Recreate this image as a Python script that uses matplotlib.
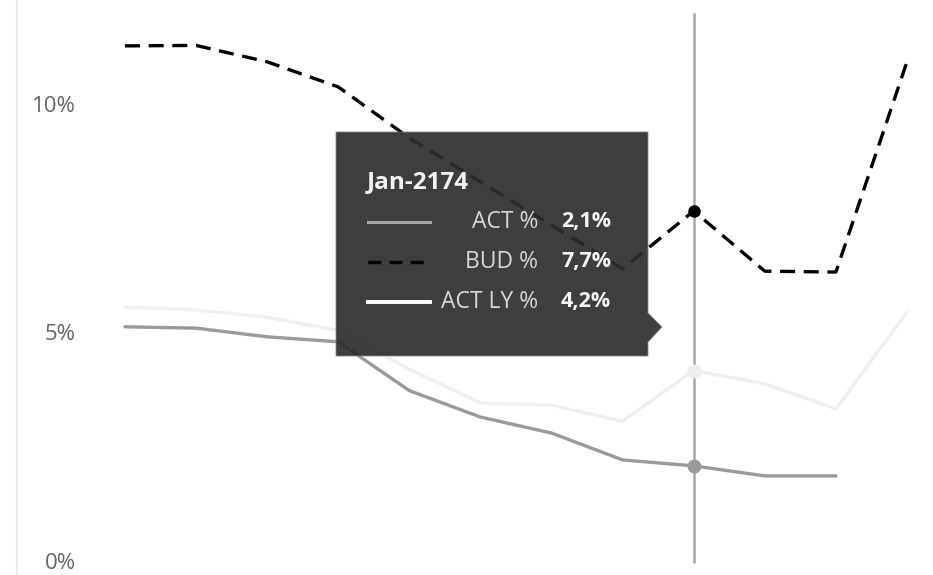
import numpy as np
import matplotlib
matplotlib.use("Agg")
import matplotlib.pyplot as plt
from matplotlib.patches import Polygon
from matplotlib.lines import Line2D

# values (percent)
months = list(range(12))
act = [5.18, 5.15, 4.96, 4.85, 3.78, 3.20, 2.85, 2.26, 2.13, 1.91, 1.91, np.nan]
bud = [11.34, 11.35, 10.99, 10.44, 9.32, 8.36, 7.41, 6.45, 7.72, 6.40, 6.38, 10.99]
act_ly = [5.61, 5.55, 5.39, 5.10, 4.25, 3.51, 3.46, 3.11, 4.22, 3.93, 3.38, 5.50]
y_ticks = [0, 5, 10]
y_tick_labels = ["0%", "5%", "10%"]
hover_idx = 8
hover_label = "Jan-2174"
series_names = ["ACT %", "BUD %", "ACT LY %"]

W, H = 933, 575
plt.rcParams['font.family'] = ['Open Sans', 'DejaVu Sans']


def fx(px):
    return px / W


def fy(py):
    return 1 - py / H


fig = plt.figure(figsize=(W / 100, H / 100), dpi=100)
ax = fig.add_axes([fx(17), 0, 1 - fx(17), 1])
ax.set_xlim(-1.519, 11.366)
ax.set_ylim(-0.263, 12.346)

ax.plot(months, act_ly, color="#efefef", lw=2.4, zorder=2, solid_capstyle="round")
ax.plot(months, act, color="#9a9a9a", lw=2.4, zorder=3, solid_capstyle="round")
ax.plot(months, bud, color="black", lw=2.4, ls=(0, (4.5, 2.6)), zorder=4)

# hover crosshair
ax.vlines(hover_idx, 0, 12.06, color="#a6a6a6", lw=1.8, zorder=1)
ax.plot(hover_idx, act_ly[hover_idx], "o", color="#efefef", ms=9, zorder=5)
ax.plot(hover_idx, act[hover_idx], "o", color="#9a9a9a", ms=9, zorder=5)
ax.plot(hover_idx, bud[hover_idx], "o", color="black", ms=8, zorder=5)

for s in ["top", "right", "bottom"]:
    ax.spines[s].set_visible(False)
ax.spines["left"].set_color("#ececec")
ax.spines["left"].set_linewidth(1.6)
ax.set_xticks([])
ax.set_yticks(y_ticks)
ax.set_yticklabels(y_tick_labels)
ax.tick_params(axis="y", length=0, pad=-42.5, labelsize=16, labelcolor="#666666")
for lbl in ax.get_yticklabels():
    lbl.set_va("center")
ax.patch.set_alpha(0)

# tooltip box
pts = [(336, 132), (648, 132), (648, 313), (662, 327), (648, 342), (648, 356), (336, 356)]
box = Polygon([(fx(x), fy(y)) for x, y in pts], closed=True, transform=fig.transFigure,
              facecolor="#2d2d2d", edgecolor="#8a8a8a", lw=0.6, alpha=0.92, zorder=10)
fig.patches.append(box)

fig.text(fx(367), fy(182), hover_label, color="#f2f2f2", fontsize=17.5, fontweight="bold",
         va="center", ha="left", zorder=11)

rows_y = [222, 262, 302]
styles = [dict(color="#a8a8a8", ls="-", lw=2.2), dict(color="black", ls=(0, (3.9, 2.4)), lw=2.4),
          dict(color="white", ls="-", lw=2.8)]
vals = [act[hover_idx], bud[hover_idx], act_ly[hover_idx]]
for name, val, ry, st in zip(series_names, vals, rows_y, styles):
    fig.add_artist(Line2D([fx(368), fx(430)], [fy(ry), fy(ry)], transform=fig.transFigure,
                          zorder=11, **st))
    fig.text(fx(538), fy(ry), name, color="#d8d8d8", fontsize=16.5, va="center", ha="right",
             zorder=11)
    fig.text(fx(561), fy(ry), f"{val:.1f}%".replace(".", ","), color="#f5f5f5", fontsize=15.5,
             fontweight="bold", va="center", ha="left", zorder=11)

fig.savefig("out.png", dpi=100)
